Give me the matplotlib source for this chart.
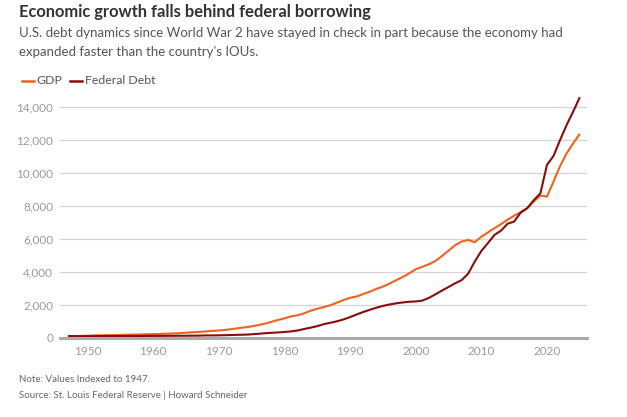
import matplotlib
matplotlib.use("Agg")
import matplotlib.pyplot as plt

# Values indexed to 1947 = 100
years = list(range(1947, 2026))

gdp = [100, 110, 109, 123, 142, 150, 159, 160, 174, 184,
       194, 198, 214, 223, 231, 248, 261, 281, 305, 334,
       353, 386, 418, 440, 477, 525, 584, 633, 690, 768,
       853, 964, 1077, 1171, 1300, 1360, 1480, 1640, 1760, 1860,
       1970, 2130, 2290, 2420, 2500, 2650, 2790, 2960, 3100, 3280,
       3480, 3680, 3900, 4150, 4300, 4450, 4650, 4950, 5280, 5600,
       5830, 5920, 5790, 6120, 6380, 6640, 6880, 7150, 7390, 7600,
       7860, 8250, 8610, 8550, 9460, 10400, 11170, 11780, 12350]

debt = [100, 98, 99, 100, 99, 101, 103, 105, 106, 105,
        105, 108, 111, 112, 113, 117, 120, 122, 124, 127,
        132, 143, 143, 147, 158, 169, 181, 188, 210, 240,
        273, 301, 322, 352, 385, 443, 531, 614, 704, 826,
        909, 999, 1110, 1253, 1411, 1560, 1693, 1819, 1928, 2016,
        2084, 2138, 2180, 2199, 2251, 2414, 2629, 2860, 3075, 3297,
        3491, 3886, 4616, 5257, 5733, 6227, 6488, 6909, 7035, 7586,
        7847, 8340, 8750, 10470, 11010, 11980, 12890, 13700, 14570]

y_ticks = [0, 2000, 4000, 6000, 8000, 10000, 12000, 14000]
x_ticks = [1950, 1960, 1970, 1980, 1990, 2000, 2010, 2020]

gdp_color = "#f0621f"
debt_color = "#8b0c0c"

plt.rcParams['font.family'] = ['Lato', 'DejaVu Sans']

fig = plt.figure(figsize=(6.27, 4.17), dpi=100)
ax = fig.add_axes([60 / 627, 0.190, 527 / 627, 0.594])

ax.plot(years, gdp, color=gdp_color, lw=1.5, solid_capstyle='butt')
ax.plot(years, debt, color=debt_color, lw=1.5, solid_capstyle='butt')

ax.set_xlim(1945.8, 2026.1)
ax.set_ylim(0, 15000)
ax.set_yticks(y_ticks)
ax.set_yticklabels([f"{v:,}" for v in y_ticks])
ax.set_xticks(x_ticks)
ax.tick_params(length=0, colors="#999999", labelsize=8.5)
ax.tick_params(axis='y', pad=5)
ax.tick_params(axis='x', pad=6)
for lab in ax.get_xticklabels() + ax.get_yticklabels():
    lab.set_color("#9a9a9a")

ax.grid(axis='y', color="#d4d4d4", lw=0.9)
ax.set_axisbelow(True)
for s in ['top', 'right', 'left']:
    ax.spines[s].set_visible(False)
ax.spines['bottom'].set_color("#aaaaaa")
ax.spines['bottom'].set_linewidth(2.2)

# Title block
fig.text(19 / 627, 1 - 12 / 417, "Economic growth falls behind federal borrowing",
         fontsize=11.9, fontweight='bold', color="#333333", va='center')
fig.text(19 / 627, 1 - 33 / 417,
         "U.S. debt dynamics since World War 2 have stayed in check in part because the economy had",
         fontsize=9.55, color="#555555", va='center')
fig.text(19 / 627, 1 - 52 / 417, "expanded faster than the country's IOUs.",
         fontsize=9.55, color="#555555", va='center')

# Legend
leg_y = 1 - 81 / 417
fig.lines.append(plt.Line2D([22 / 627, 34 / 627], [leg_y, leg_y], color=gdp_color,
                            lw=1.8, transform=fig.transFigure))
fig.text(36 / 627, leg_y, "GDP", fontsize=8.8, color="#555555", va='center')
fig.lines.append(plt.Line2D([70 / 627, 82 / 627], [leg_y, leg_y], color=debt_color,
                            lw=1.8, transform=fig.transFigure))
fig.text(85 / 627, leg_y, "Federal Debt", fontsize=8.8, color="#555555", va='center')

# Footer
fig.text(19 / 627, 1 - 379 / 417, "Note: Values Indexed to 1947.",
         fontsize=7, color="#666666", va='center')
fig.text(19 / 627, 1 - 395 / 417, "Source: St. Louis Federal Reserve | Howard Schneider",
         fontsize=7.0, color="#666666", va='center')

fig.savefig("out.png", dpi=100)
